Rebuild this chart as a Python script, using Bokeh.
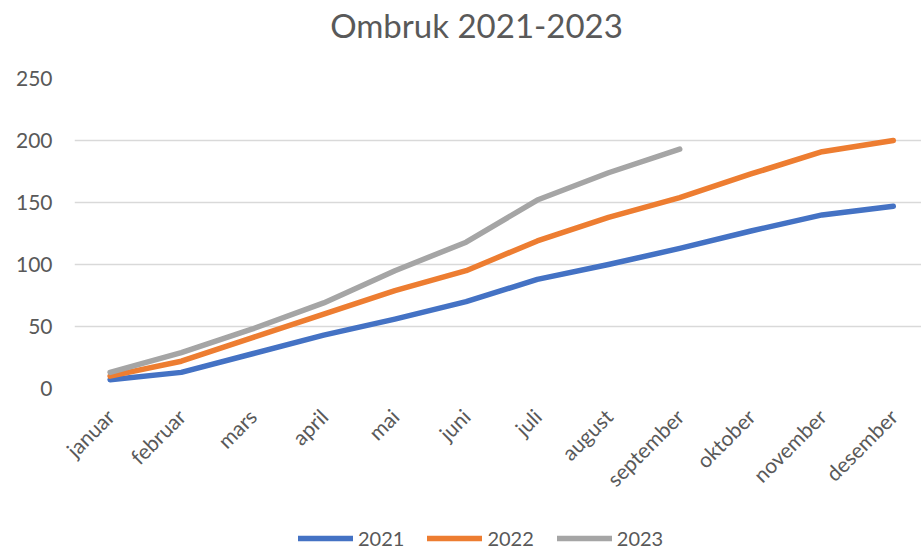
import numpy as np
from bokeh.plotting import figure
from bokeh.layouts import column
from bokeh.models import Range1d, FixedTicker, Legend, LegendItem, Label
from bokeh.embed import file_html
from bokeh.resources import INLINE

title_text = "Ombruk 2021-2023"
months = ["januar", "februar", "mars", "april", "mai", "juni", "juli",
          "august", "september", "oktober", "november", "desember"]
y2021 = [7, 13, 28, 43, 56, 70, 88, 100, 113, 127, 140, 147]
y2022 = [10, 22, 41, 60, 79, 95, 119, 138, 154, 173, 191, 200]
y2023 = [13, 29, 48, 69, 95, 118, 152, 174, 193]
yticks = [0, 50, 100, 150, 200, 250]
series = [("2021", y2021, "#4472C4"), ("2022", y2022, "#ED7D31"), ("2023", y2023, "#A5A5A5")]

FONT = "Lato"
TXT = "#595959"
LW = 5.5
W = 921
LEFT = 74
HDR = 60


def bare(fig):
    fig.outline_line_color = None
    fig.grid.grid_line_color = None
    return fig


# header strip with the title
hdr = bare(figure(width=W, height=HDR, output_backend="svg", toolbar_location=None,
                  x_axis_type=None, y_axis_type=None,
                  min_border_left=LEFT, min_border_right=0, min_border_top=0, min_border_bottom=0,
                  x_range=Range1d(LEFT, W), y_range=Range1d(0, HDR)))
hdr.add_layout(Label(x=476, y=36, text=title_text, text_align="center",
                     text_baseline="alphabetic", text_font=FONT, text_font_size="33px",
                     text_color=TXT))

# main chart
p = figure(width=W, height=445, output_backend="svg", toolbar_location=None,
           x_range=Range1d(-0.5, 11.396), y_range=Range1d(0, 250),
           min_border_left=LEFT, min_border_right=0, min_border_top=18, min_border_bottom=117)

p.outline_line_color = None
p.xgrid.grid_line_color = None
p.ygrid.grid_line_color = "#D9D9D9"
p.ygrid.grid_line_width = 1.5

p.yaxis.ticker = FixedTicker(ticks=yticks)
p.yaxis.axis_line_color = None
p.yaxis.major_tick_line_color = None
p.yaxis.minor_tick_line_color = None
p.yaxis.major_label_standoff = 16
p.yaxis.major_label_text_font = FONT
p.yaxis.major_label_text_font_size = "21px"
p.yaxis.major_label_text_color = TXT

p.xaxis.ticker = FixedTicker(ticks=list(range(len(months))))
p.xaxis.major_label_overrides = {i: m for i, m in enumerate(months)}
p.xaxis.major_label_orientation = np.pi / 4
p.xaxis.axis_line_color = None
p.xaxis.major_tick_line_color = None
p.xaxis.minor_tick_line_color = None
p.xaxis.major_label_standoff = 18
p.xaxis.major_label_text_font = FONT
p.xaxis.major_label_text_font_size = "21px"
p.xaxis.major_label_text_color = TXT

for name, vals, color in series:
    p.line(list(range(len(vals))), vals, line_color=color, line_width=LW,
           line_cap="round", line_join="round")

# legend strip below the chart (series drawn out of view, used only as legend keys)
lg = bare(figure(width=W, height=45, output_backend="svg", toolbar_location=None,
                 x_axis_type=None, y_axis_type=None,
                 min_border_left=LEFT, min_border_right=0, min_border_top=0, min_border_bottom=0,
                 x_range=Range1d(-100, -99), y_range=Range1d(-100, -99)))
items = []
for name, vals, color in series:
    r = lg.line(list(range(len(vals))), vals, line_color=color, line_width=LW, line_cap="round")
    items.append(LegendItem(label=name, renderers=[r]))

legend = Legend(items=items, orientation="horizontal", location=(224, 0),
                glyph_width=55, glyph_height=16, label_standoff=5, spacing=23,
                padding=0, margin=0, border_line_color=None, background_fill_alpha=0,
                label_text_font=FONT, label_text_font_size="20px", label_text_color=TXT)
lg.add_layout(legend, "center")

layout = column(hdr, p, lg, spacing=0)
open("out.html", "w").write(file_html(layout, INLINE))
